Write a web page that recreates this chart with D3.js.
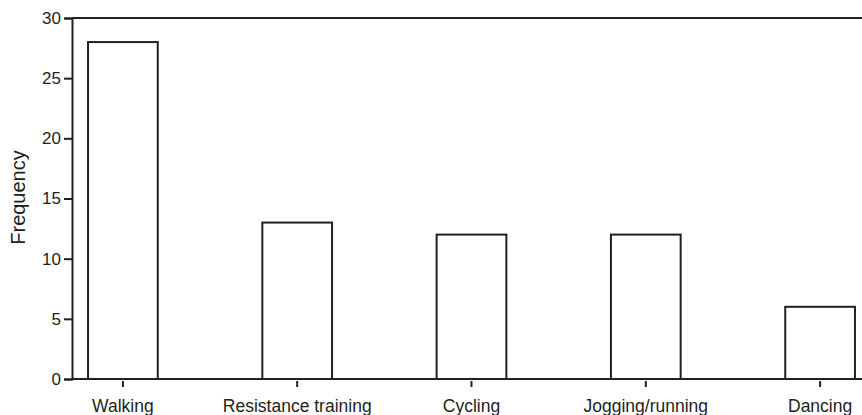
<!DOCTYPE html>
<html>
<head>
<meta charset="utf-8">
<script src="https://cdn.jsdelivr.net/npm/d3@7"></script>
<style>
  body { margin: 0; background: #fff; }
  text { font-family: "Liberation Sans", Arial, sans-serif; fill: #231f20; }
</style>
</head>
<body>
<div id="chart"></div>
<script>
const categories = ["Walking", "Resistance training", "Cycling", "Jogging/running", "Dancing"]
const frequency = [28, 13, 12, 12, 6]
const yTicks = [0, 5, 10, 15, 20, 25, 30]

const W = 862
const H = 415
const MARGIN = {TOP: 18, LEFT: 72, BOTTOM: 36}
const INK = "#231f20"

const svg = d3.select("#chart")
  .append("svg")
  .attr("width", W)
  .attr("height", H)

const y = d3.scaleLinear()
  .domain([0, 30])
  .range([H - MARGIN.BOTTOM, MARGIN.TOP])

// band range runs a bit past the right edge, the picture is cropped there
const x = d3.scaleBand()
  .domain(categories)
  .range([MARGIN.LEFT, 871])
  .paddingInner(0.6)
  .paddingOuter(0.092)

// bars
svg.selectAll("rect.bar")
  .data(categories)
  .enter()
  .append("rect")
  .attr("class", "bar")
  .attr("x", d => x(d))
  .attr("y", (d, i) => y(frequency[i]))
  .attr("width", x.bandwidth())
  .attr("height", (d, i) => y(0) - y(frequency[i]))
  .attr("fill", "#fff")
  .attr("stroke", INK)
  .attr("stroke-width", 2)

// y axis
const yAxis = svg.append("g")
  .attr("transform", `translate(${MARGIN.LEFT}, 0)`)
  .call(d3.axisLeft(y).tickValues(yTicks).tickSize(8).tickPadding(3))
yAxis.select(".domain").attr("stroke", INK).attr("stroke-width", 2)
yAxis.selectAll(".tick line").attr("stroke", INK).attr("stroke-width", 2)
yAxis.selectAll(".tick text")
  .attr("font-size", 17)
  .attr("font-family", "Liberation Sans, Arial, sans-serif")
  .attr("fill", INK)

// x axis
const xAxis = svg.append("g")
  .attr("transform", `translate(0, ${y(0)})`)
  .call(d3.axisBottom(x).tickSize(8))
xAxis.select(".domain").remove()
xAxis.append("line")
  .attr("x1", MARGIN.LEFT).attr("x2", W)
  .attr("stroke", INK).attr("stroke-width", 2)
xAxis.selectAll(".tick line")
  .attr("y1", 2)
  .attr("stroke", INK).attr("stroke-width", 2)
xAxis.selectAll(".tick text")
  .attr("y", 33)
  .attr("dy", null)
  .attr("font-size", 17.5)
  .attr("font-family", "Liberation Sans, Arial, sans-serif")
  .attr("fill", INK)

// top frame line
svg.append("line")
  .attr("x1", MARGIN.LEFT).attr("x2", W)
  .attr("y1", y(30)).attr("y2", y(30))
  .attr("stroke", INK).attr("stroke-width", 2)

// y label
svg.append("text")
  .attr("transform", `translate(25, 197.5) rotate(-90)`)
  .attr("text-anchor", "middle")
  .attr("font-size", 20)
  .text("Frequency")
</script>
</body>
</html>
